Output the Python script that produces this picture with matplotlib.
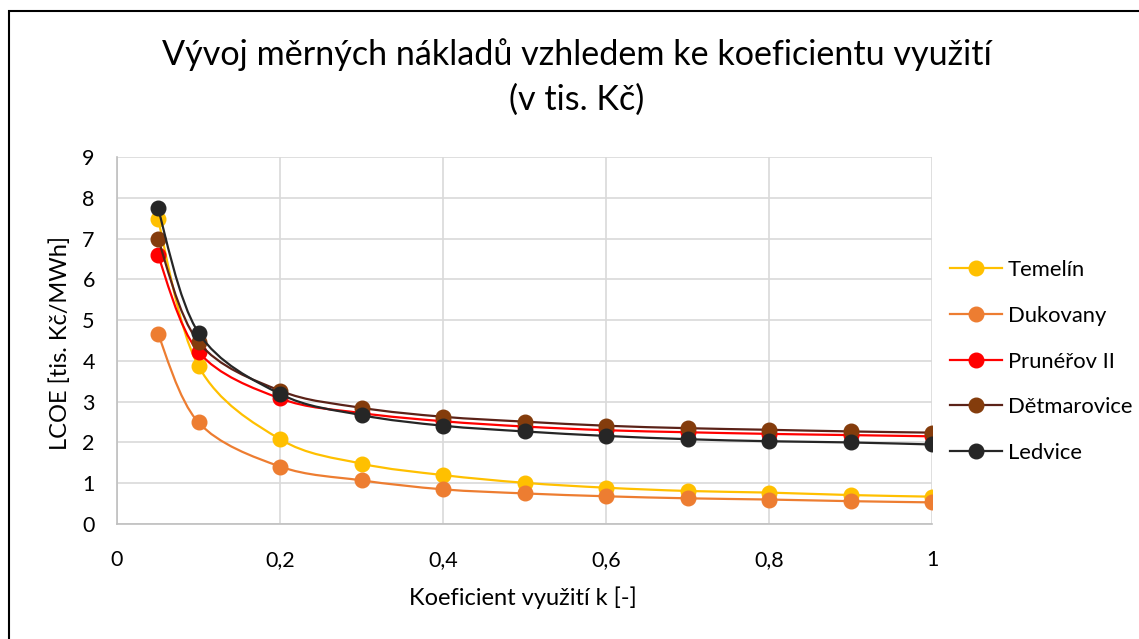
import numpy as np
import matplotlib
matplotlib.use("Agg")
import matplotlib.pyplot as plt
from matplotlib.path import Path
from matplotlib.patches import PathPatch, Rectangle
from matplotlib.lines import Line2D
from matplotlib.ticker import FuncFormatter, MultipleLocator

plt.rcParams['font.family'] = ['Lato', 'DejaVu Sans']

k = [0.05, 0.1, 0.2, 0.3, 0.4, 0.5, 0.6, 0.7, 0.8, 0.9, 1.0]
temelin = [7.49, 3.87, 2.08, 1.48, 1.20, 1.01, 0.89, 0.81, 0.77, 0.71, 0.67]
dukovany = [4.67, 2.49, 1.41, 1.07, 0.85, 0.75, 0.68, 0.63, 0.60, 0.56, 0.53]
prunerov = [6.60, 4.22, 3.08, 2.72, 2.52, 2.39, 2.30, 2.25, 2.21, 2.18, 2.15]
detmarovice = [7.00, 4.46, 3.27, 2.85, 2.63, 2.51, 2.41, 2.35, 2.31, 2.27, 2.24]
ledvice = [7.75, 4.69, 3.19, 2.67, 2.41, 2.27, 2.16, 2.08, 2.03, 2.00, 1.95]

names = ["Temelín", "Dukovany", "Prunéřov II", "Dětmarovice", "Ledvice"]
series = [temelin, dukovany, prunerov, detmarovice, ledvice]
marker_colors = ["#FFC000", "#ED7D31", "#FF0000", "#843C0C", "#262626"]
line_colors = ["#FFC000", "#ED7D31", "#FF0000", "#5B2218", "#262626"]

W, H = 1139, 639
fig = plt.figure(figsize=(W / 100, H / 100), dpi=100)
ax = fig.add_axes([117 / W, 1 - 524 / H, (932 - 117) / W, (524 - 157) / H])


def smooth_path(x, y, t=1 / 6):
    x = np.asarray(x, float)
    y = np.asarray(y, float)
    n = len(x)
    verts = [(x[0], y[0])]
    codes = [Path.MOVETO]
    for i in range(n - 1):
        i0 = max(i - 1, 0)
        i3 = min(i + 2, n - 1)
        c1 = (x[i] + (x[i + 1] - x[i0]) * t, y[i] + (y[i + 1] - y[i0]) * t)
        c2 = (x[i + 1] - (x[i3] - x[i]) * t, y[i + 1] - (y[i3] - y[i]) * t)
        verts += [c1, c2, (x[i + 1], y[i + 1])]
        codes += [Path.CURVE4] * 3
    return Path(verts, codes)


handles = []
for j, (nm, ys, mc, lc) in enumerate(zip(names, series, marker_colors, line_colors)):
    p = PathPatch(smooth_path(k, ys), transform=ax.transData, fill=False,
                  ec=lc, lw=1.6, zorder=3 + 2 * j, capstyle='round')
    ax.add_patch(p)
    ax.plot(k, ys, ls='none', marker='o', ms=10.5, mfc=mc, mec=mc, zorder=4 + 2 * j)
    handles.append(Line2D([], [], color=lc, lw=1.6, marker='o', ms=10.5, mfc=mc, mec=mc))

ax.set_xlim(0, 1)
ax.set_ylim(0, 9)
ax.xaxis.set_major_locator(MultipleLocator(0.2))
ax.yaxis.set_major_locator(MultipleLocator(1))
ax.xaxis.set_major_formatter(FuncFormatter(lambda v, p: ("%g" % round(v, 1)).replace('.', ',')))
ax.grid(True, color="#D9D9D9", lw=1.2, zorder=0)
ax.set_axisbelow(True)
for s in ['top', 'right']:
    ax.spines[s].set_visible(False)
for s in ['left', 'bottom']:
    ax.spines[s].set_color("#BFBFBF")
    ax.spines[s].set_linewidth(1.2)
ax.tick_params(length=0, labelsize=15.5, colors="#000000")
ax.tick_params(axis='x', pad=19)
ax.tick_params(axis='y', pad=16)

fig.text(523 / W, 1 - 605 / H, "Koeficient využití k [-]", ha='center', va='baseline',
         fontsize=17)
fig.text(60 / W, 1 - 343 / H, "LCOE [tis. Kč/MWh]", ha='center', va='center',
         rotation=90, fontsize=17)

fig.text(577 / W, 1 - 65 / H, "Vývoj měrných nákladů vzhledem ke koeficientu využití",
         ha='center', va='baseline', fontsize=24.6)
fig.text(577 / W, 1 - 110 / H, "(v tis. Kč)", ha='center', va='baseline', fontsize=24.6)

leg = fig.legend(handles, names, loc='center left', bbox_to_anchor=(950 / W, 1 - 361.5 / H),
                 frameon=False, fontsize=15.8, handlelength=2.37, handletextpad=0.27,
                 labelspacing=1.17, borderpad=0, borderaxespad=0)

fig.add_artist(Rectangle((8.5 / W, -0.1), 2, 1 - 10.5 / H + 0.1, transform=fig.transFigure,
                         fill=False, ec='black', lw=1.5))

fig.savefig("out.png", dpi=100)
